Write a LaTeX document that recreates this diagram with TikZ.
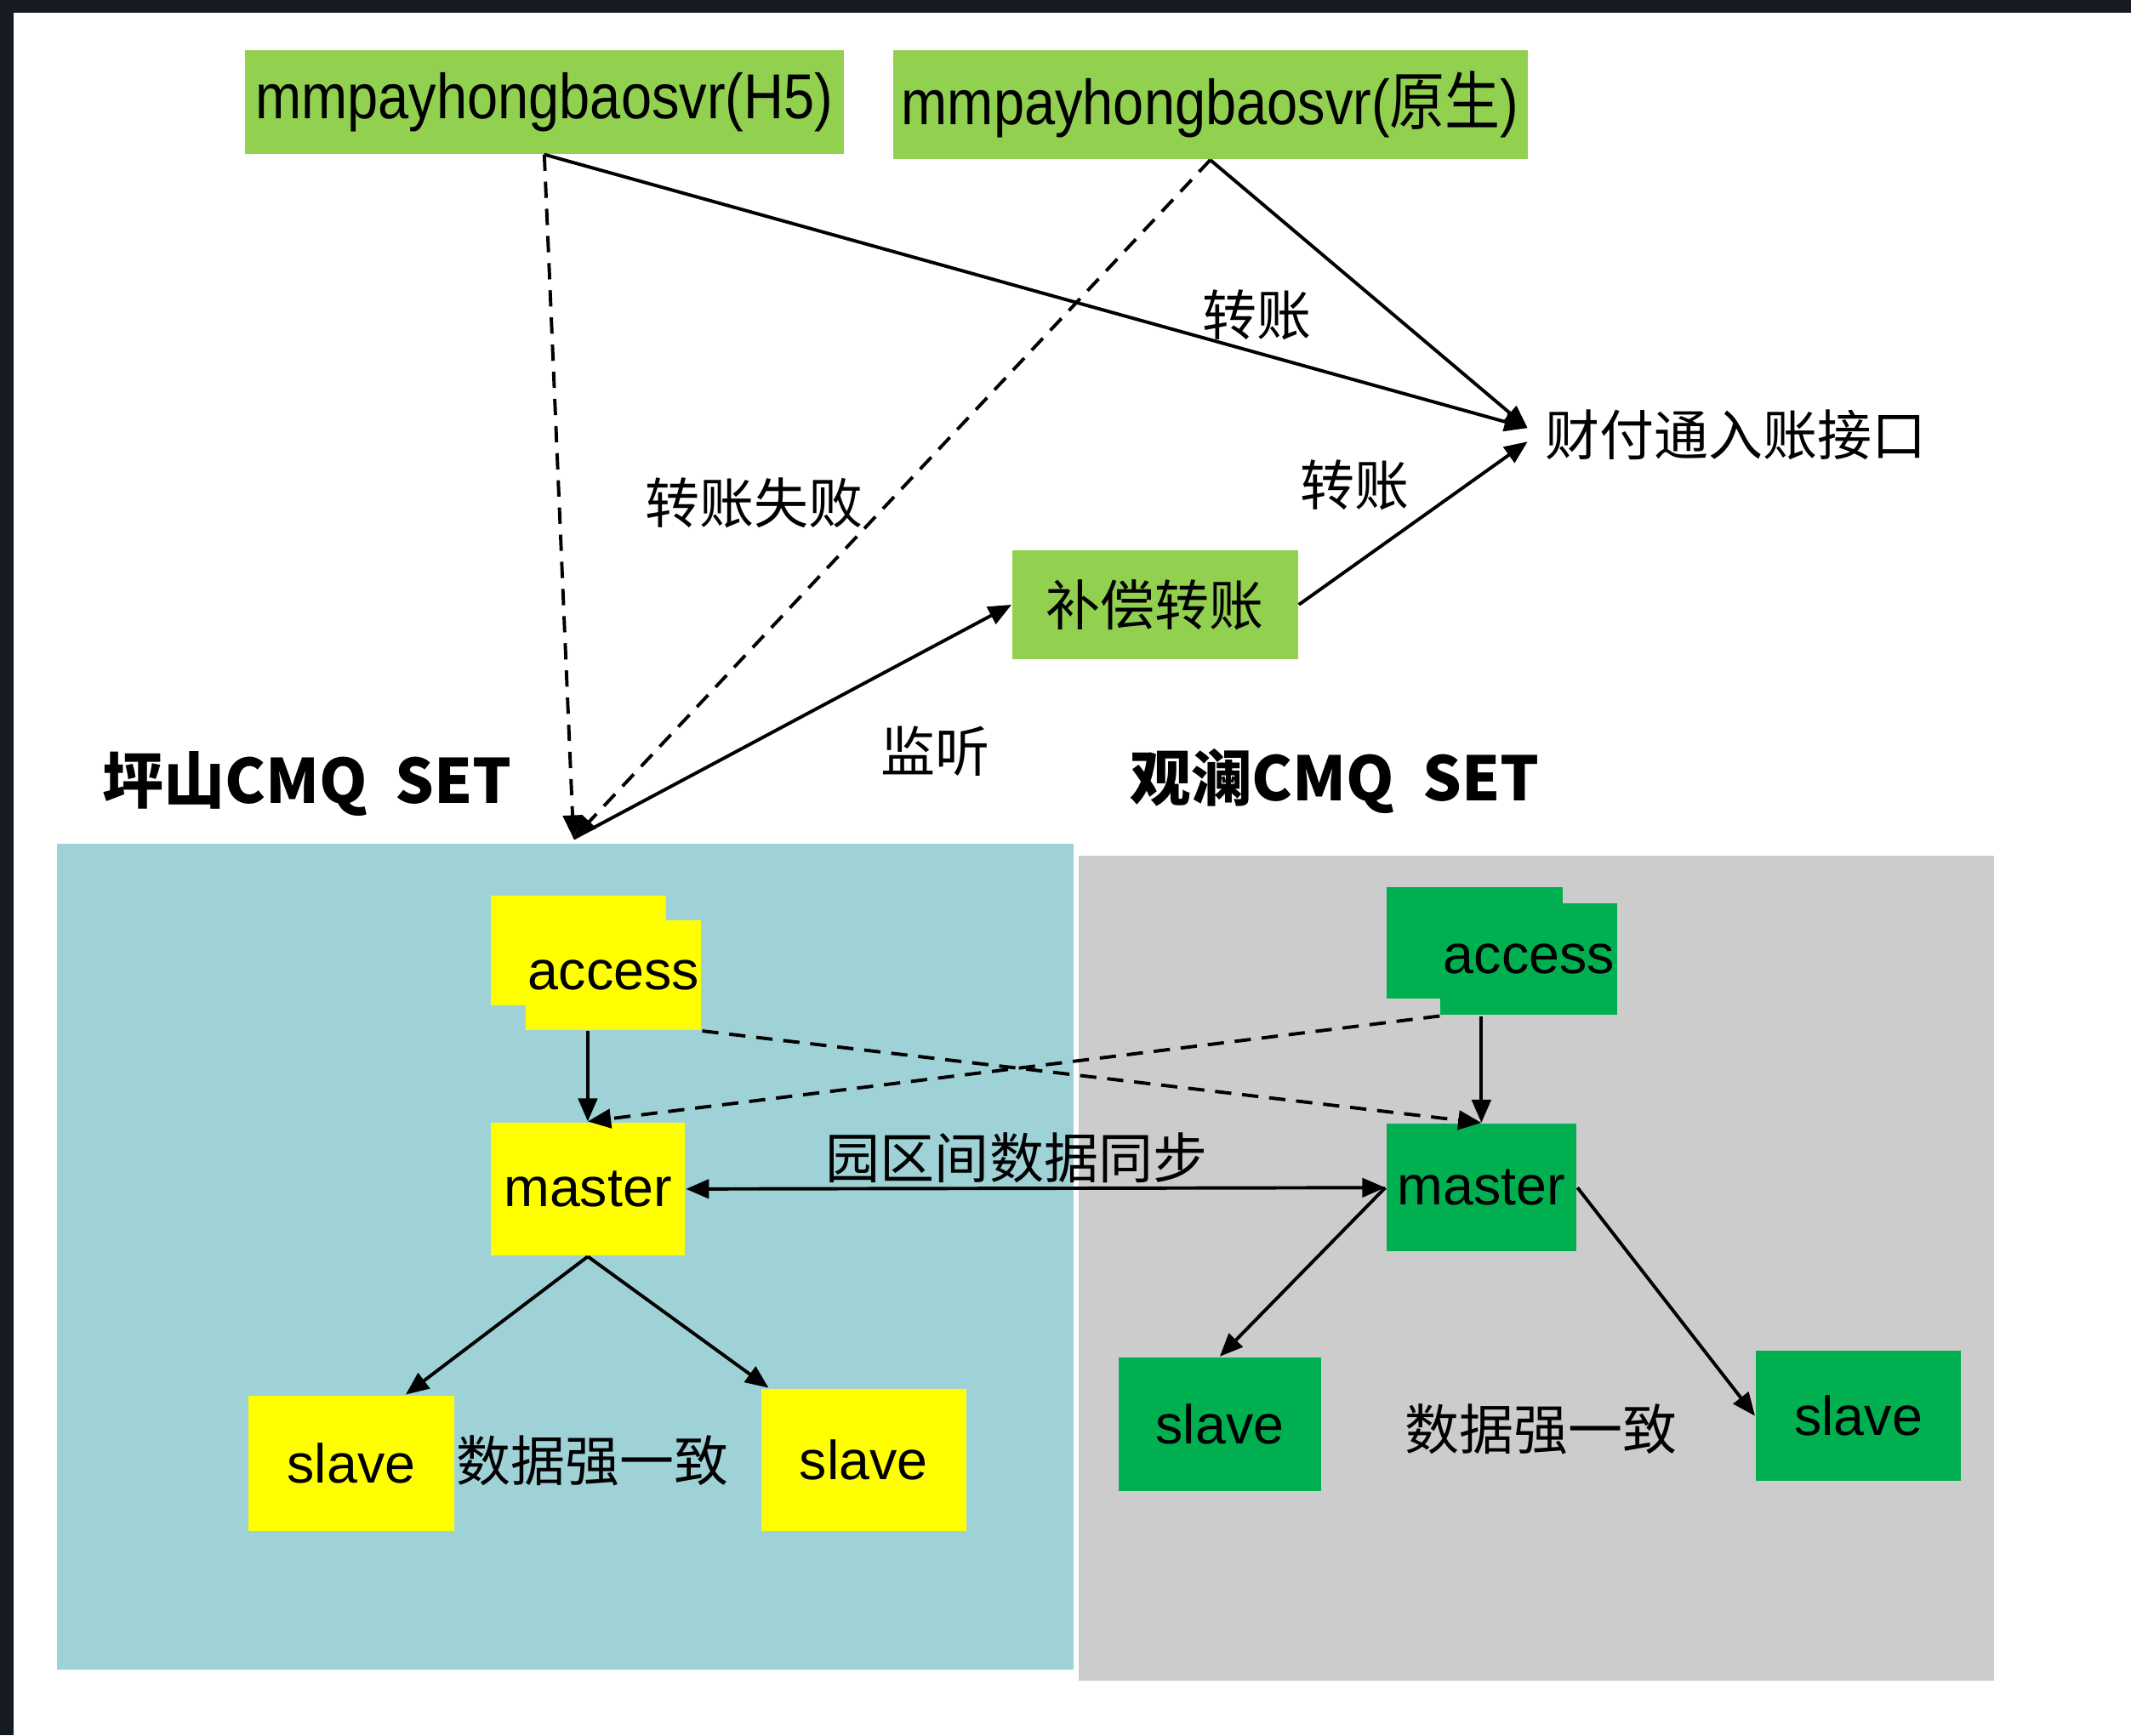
\documentclass[tikz,border=0pt]{standalone}
\usepackage{fontspec}
\setmainfont{Liberation Sans}
\newfontfamily\cjk{Noto Sans CJK SC}
\usetikzlibrary{arrows.meta,shadows}

\definecolor{frameDark}{HTML}{161A21}
\definecolor{lightGreen}{HTML}{92D050}
\definecolor{cmqYellow}{HTML}{FFFF00}
\definecolor{cmqGreen}{HTML}{00B050}
\definecolor{pingshanBg}{HTML}{9ED2D6}
\definecolor{guanlanBg}{HTML}{CCCCCC}

\tikzset{
  svcbox/.style={fill=lightGreen, inner sep=0pt, font=\fontsize{13.3}{15}\selectfont},
  cmqbox/.style={inner sep=0pt, font=\fontsize{11.5}{13}\selectfont},
  lbl/.style={inner sep=0pt, font=\fontsize{11.4}{13}\selectfont\cjk},
  setlbl/.style={inner sep=0pt, font=\fontsize{12.8}{15}\selectfont\cjk\bfseries},
  flow/.style={line width=0.7pt,->},
  fail/.style={line width=0.7pt,->,dash pattern=on 1.2mm off 0.8mm},
}

\begin{document}
\begin{tikzpicture}[>={Triangle[length=1.7mm,width=1.4mm]}]

    \fill[frameDark] (0,0) rectangle (15.68,-12.77);
    \fill[white] (0.10,-0.094) rectangle (15.68,-12.77);
    \useasboundingbox (0,0) rectangle (15.68,-12.77);

    % two CMQ sets
    \fill[pingshanBg] (0.42,-6.21) rectangle (7.90,-12.29);
    \fill[guanlanBg] (7.94,-6.30) rectangle (14.67,-12.37);
    \node[setlbl] (psSet) at (2.26,-5.77) {坪山CMQ\ \ SET};
    \node[setlbl] (glSet) at (9.82,-5.75) {观澜CMQ\ \ SET};

    % services on top
    \node[svcbox, minimum width=4.41cm, minimum height=0.76cm, text depth=0.5ex] (h5) at (4.005,-0.75) {\scalebox{0.87}[1]{mmpayhongbaosvr(H5)}};
    \node[svcbox, minimum width=4.67cm, minimum height=0.80cm, text depth=0.5ex] (native) at (8.905,-0.77) {\scalebox{0.87}[1]{mmpayhongbaosvr({\cjk 原生})}};
    \node[lbl, anchor=west, inner sep=1.2mm] (caifu) at (11.24,-3.20) {财付通入账接口};
    \node[svcbox, font=\fontsize{11.4}{13}\selectfont\cjk, minimum width=2.10cm, minimum height=0.80cm] (comp) at (8.50,-4.45) {补偿转账};
    \coordinate (hub) at (4.22,-6.17);

    % queue nodes
    \node[cmqbox, fill=cmqYellow, minimum width=1.29cm, minimum height=0.81cm, copy shadow={fill=cmqYellow, draw=none, shadow xshift=-0.26cm, shadow yshift=0.18cm}] (accL) at (4.515,-7.175) {access};
    \node[cmqbox, fill=cmqGreen, minimum width=1.30cm, minimum height=0.82cm, copy shadow={fill=cmqGreen, draw=none, shadow xshift=-0.40cm, shadow yshift=0.12cm}] (accR) at (11.25,-7.06) {access};
    \node[cmqbox, fill=cmqYellow, minimum width=1.43cm, minimum height=0.98cm] (mstL) at (4.325,-8.75) {master};
    \node[cmqbox, fill=cmqGreen, minimum width=1.40cm, minimum height=0.94cm] (mstR) at (10.90,-8.74) {master};
    \node[cmqbox, fill=cmqYellow, minimum width=1.51cm, minimum height=1.00cm] (slvL1) at (2.585,-10.77) {slave};
    \node[cmqbox, fill=cmqYellow, minimum width=1.51cm, minimum height=1.05cm] (slvL2) at (6.355,-10.745) {slave};
    \node[cmqbox, fill=cmqGreen, minimum width=1.49cm, minimum height=0.98cm] (slvR1) at (8.975,-10.48) {slave};
    \node[cmqbox, fill=cmqGreen, minimum width=1.51cm, minimum height=0.96cm] (slvR2) at (13.675,-10.42) {slave};

    % labels
    \node[lbl] (xfer1) at (9.25,-2.32) {转账};
    \node[lbl] (xfer2) at (9.97,-3.57) {转账};
    \node[lbl] (xferFail) at (5.55,-3.70) {转账失败};
    \node[lbl] (listen) at (6.88,-5.53) {监听};
    \node[lbl] (sync) at (7.48,-8.52) {园区间数据同步};
    \node[lbl] (consL) at (4.36,-10.75) {数据强一致};
    \node[lbl] (consR) at (11.34,-10.52) {数据强一致};

    % calls
    \draw[fail] (h5.south) -- (hub);
    \draw[fail] (native.south) -- (hub);
    \draw[flow] (h5.south) -- ([yshift=0.5mm]caifu.west);
    \draw[flow] (native.south) -- ([yshift=0.5mm]caifu.west);
    \draw[flow] (hub) -- (comp.west);
    \draw[flow] (comp.east) -- ([yshift=-0.5mm]caifu.west);

    % replication
    \draw[flow] (mstL.north |- accL.south) -- (mstL.north);
    \draw[fail] (accL.south east) -- (mstR.north);
    \draw[fail] (accR.south west) -- (mstL.north);
    \draw[flow] (mstR.north |- accR.south) -- (mstR.north);
    \draw[flow,<->] (mstL.east) -- (mstR.west);
    \draw[flow] (mstL.south) -- ([xshift=4mm]slvL1.north);
    \draw[flow] (mstL.south) -- ([xshift=-7mm]slvL2.north);
    \draw[flow] (mstR.west) -- (slvR1.north);
    \draw[flow] (mstR.east) -- (slvR2.west);

\end{tikzpicture}
\end{document}
